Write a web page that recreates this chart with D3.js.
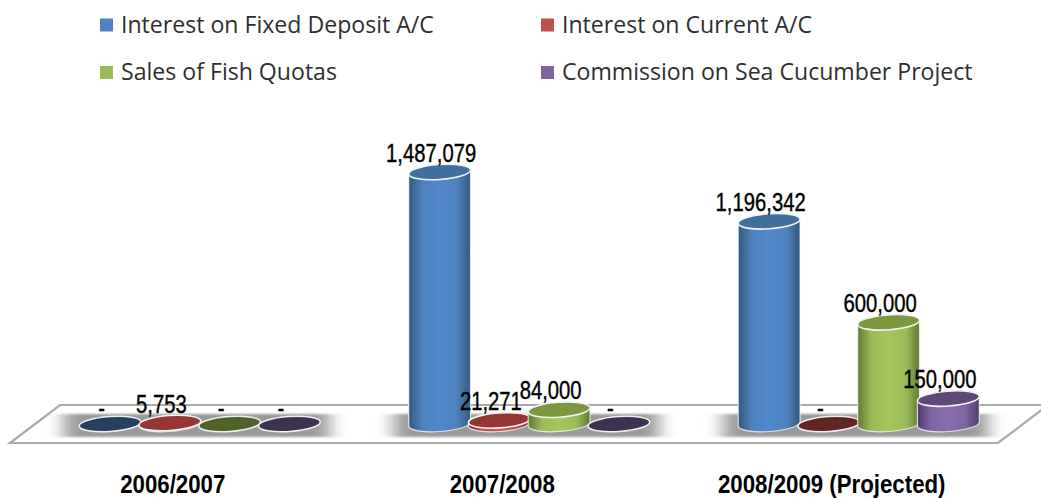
<!DOCTYPE html>
<html><head><meta charset="utf-8">
<script src="https://cdn.jsdelivr.net/npm/d3@7"></script>
<style>html,body{margin:0;padding:0;background:#fff;overflow:hidden}svg{display:block}</style>
</head><body><div id="chart"></div>
<script>
const categories = ["2006/2007", "2007/2008", "2008/2009 (Projected)"];
const seriesNames = ["Interest on Fixed Deposit A/C", "Interest on Current A/C", "Sales of Fish Quotas", "Commission on Sea Cucumber Project"];
const fixedDeposit = [0, 1487079, 1196342];
const currentAccount = [5753, 21271, 0];
const fishQuotas = [0, 84000, 600000];
const seaCucumber = [0, 0, 150000];
const seriesValues = [fixedDeposit, currentAccount, fishQuotas, seaCucumber];
const colors = ["#4f81bd", "#c0504d", "#9bbb59", "#8064a2"];
const edgeColors = ["#34587f", "#7d2f2d", "#5f7a32", "#4f3c6b"];
const lightColors = ["#5088cc", "#cf5552", "#a5c75c", "#8a6cb0"];
const topColors = ["#41709f", "#953735", "#7c973f", "#5f497a"];
const zeroColors = ["#254061", "#632523", "#4f6228", "#3f3151"];

const W = 1041, H = 498, baseY = 424, RX = 31, RY = 7.5, TILT = -4;
const svg = d3.select("#chart").append("svg").attr("width", W).attr("height", H);
const defs = svg.append("defs");
colors.forEach((c, i) => {
  const g = defs.append("linearGradient").attr("id", "cyl" + i);
  g.append("stop").attr("offset", "0%").attr("stop-color", edgeColors[i]);
  g.append("stop").attr("offset", "22%").attr("stop-color", c);
  g.append("stop").attr("offset", "50%").attr("stop-color", lightColors[i]);
  g.append("stop").attr("offset", "78%").attr("stop-color", c);
  g.append("stop").attr("offset", "100%").attr("stop-color", edgeColors[i]);
});
defs.append("filter").attr("id", "blur").attr("x", "-25%").attr("width", "150%").attr("y", "-20%").attr("height", "140%")
  .append("feGaussianBlur").attr("stdDeviation", "9 0.8");

const x0 = d3.scaleBand().domain(categories).range([35, 1023.5]).padding(0);
const inner = d3.scaleBand().domain(d3.range(4)).range([0, 239]).padding(0);
const innerOffset = (x0.bandwidth() - 239) / 2;
const y = d3.scaleLinear().domain([0, 1487079]).range([baseY, 172]);

// Floor
svg.append("path").attr("d", d3.line()([[60, 405], [1048, 405], [998, 443], [10, 443]]) + "Z")
  .attr("fill", "#fff").attr("stroke", "#a9a9a9").attr("stroke-width", 2.2);

// Shadows
svg.append("g").selectAll("rect").data(categories).join("rect")
  .attr("x", d => x0(d) + innerOffset - 16).attr("width", 239 + 26)
  .attr("y", 414).attr("height", 23).attr("fill", "#9a9a9a").attr("filter", "url(#blur)");

const dx = RX * Math.cos(TILT * Math.PI / 180), dy = RX * Math.sin(TILT * Math.PI / 180);
const ell = (cx, cy) => `M${cx - dx},${cy - dy}A${RX},${RY} ${TILT} 1 1 ${cx + dx},${cy + dy}A${RX},${RY} ${TILT} 1 1 ${cx - dx},${cy - dy}Z`;

const marks = [];
categories.forEach((cat, c) => seriesValues.forEach((vals, s) => {
  marks.push({ cat, s, v: vals[c], cx: x0(cat) + innerOffset + inner(s) + inner.bandwidth() / 2 });
}));

const g = svg.append("g");
marks.forEach(m => {
  const top = y(m.v);
  if (m.v > 0) {
    g.append("path")
      .attr("d", `M${m.cx - dx},${top - dy}L${m.cx - dx},${baseY - dy}A${RX},${RY} ${TILT} 0 0 ${m.cx + dx},${baseY + dy}L${m.cx + dx},${top + dy}Z`)
      .attr("fill", `url(#cyl${m.s})`).attr("stroke", "#fff").attr("stroke-opacity", 0.75).attr("stroke-width", 1.2);
    g.append("path").attr("d", ell(m.cx, top)).attr("fill", topColors[m.s])
      .attr("stroke", "#f4f4f4").attr("stroke-width", 1.6);
  } else {
    g.append("path").attr("d", ell(m.cx, baseY)).attr("fill", zeroColors[m.s])
      .attr("stroke", "#f0f0f0").attr("stroke-width", 1.6);
  }
});

// Data labels
const fmt = d3.format(",");
svg.append("g").selectAll("text").data(marks).join("text")
  .attr("transform", d => `translate(${d.cx - 8.5},${y(d.v) - (d.v === 0 ? 7 : 10.5)}) scale(0.81,1)`)
  .attr("text-anchor", "middle")
  .attr("font-family", "'Liberation Sans', Arial, sans-serif").attr("font-size", 25)
  .attr("fill", "#000").attr("stroke", "#000").attr("stroke-width", 0.4)
  .text(d => d.v === 0 ? "-" : fmt(d.v));

// Category axis
const axis = svg.append("g").attr("transform", "translate(-27,493)")
  .call(d3.axisBottom(x0).tickSize(0).tickPadding(0));
axis.select(".domain").remove();
axis.selectAll("text").attr("dy", 0).attr("y", 0).attr("transform", "scale(0.89,1)")
  .attr("font-family", "'Liberation Sans', Arial, sans-serif").attr("font-weight", "bold")
  .attr("font-size", 25).attr("fill", "#000");

// Legend
const legendX = [100, 541], legendY = [25, 72.5];
const legend = svg.append("g").selectAll("g").data(seriesNames).join("g")
  .attr("transform", (d, i) => `translate(${legendX[i % 2]},${legendY[Math.floor(i / 2)]})`);
legend.append("rect").attr("x", 0).attr("y", -6.5).attr("width", 13).attr("height", 13)
  .attr("fill", (d, i) => colors[i]);
legend.append("text").attr("x", 21).attr("y", 7.5)
  .attr("font-family", "'Open Sans','Noto Sans',sans-serif").attr("font-size", 23.1).attr("fill", "#2f2f2f")
  .text(d => d);
</script></body></html>
